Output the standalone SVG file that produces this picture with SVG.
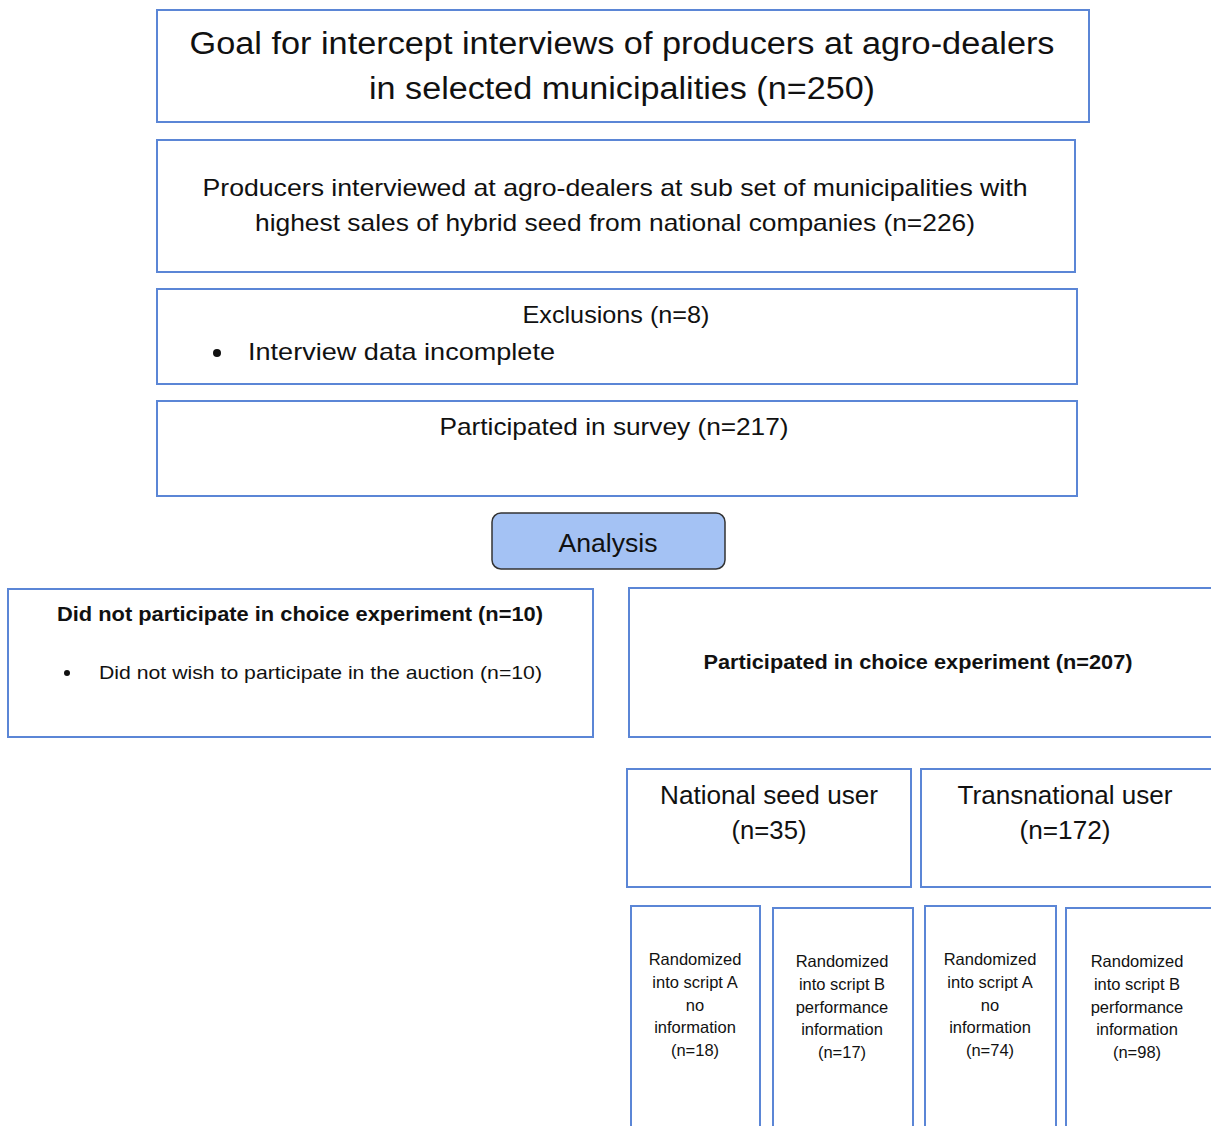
<svg xmlns="http://www.w3.org/2000/svg" width="1211" height="1126" viewBox="0 0 1211 1126">
<style>
.box{fill:#fff;stroke:#5b86d6;stroke-width:2}
text{font-family:"Liberation Sans",Arial,sans-serif;fill:#111;text-anchor:middle}
.t1{font-size:31px}
.t2{font-size:24px}
.t3{font-size:20px}
.b{font-weight:bold}
.sm{font-size:16.5px}
.ls{text-anchor:start}
</style>
<rect width="1211" height="1126" fill="#fff"/>
<g id="goal"><rect class="box" x="157" y="10" width="932" height="112"/>
<text class="t1" x="622" y="54" textLength="865" lengthAdjust="spacingAndGlyphs">Goal for intercept interviews of producers at agro-dealers</text>
<text class="t1" x="622" y="99" textLength="506" lengthAdjust="spacingAndGlyphs">in selected municipalities (n=250)</text></g>
<g id="interviewed"><rect class="box" x="157" y="140" width="918" height="132"/>
<text class="t2" x="615" y="196" textLength="825" lengthAdjust="spacingAndGlyphs">Producers interviewed at agro-dealers at sub set of municipalities with</text>
<text class="t2" x="615" y="231" textLength="720" lengthAdjust="spacingAndGlyphs">highest sales of hybrid seed from national companies (n=226)</text></g>
<g id="exclusions"><rect class="box" x="157" y="289" width="920" height="95"/>
<text class="t2" x="616" y="323" textLength="187" lengthAdjust="spacingAndGlyphs">Exclusions (n=8)</text>
<circle cx="217" cy="353" r="4" fill="#111"/>
<text class="t2 ls" x="248" y="360" textLength="307" lengthAdjust="spacingAndGlyphs">Interview data incomplete</text></g>
<g id="survey"><rect class="box" x="157" y="401" width="920" height="95"/>
<text class="t2" x="614" y="435" textLength="349" lengthAdjust="spacingAndGlyphs">Participated in survey (n=217)</text></g>
<g id="analysis"><rect x="492" y="513" width="233" height="56" rx="9" fill="#a4c2f4" stroke="#333" stroke-width="1.5"/>
<text x="608" y="552" font-size="26" textLength="99" lengthAdjust="spacingAndGlyphs">Analysis</text></g>
<g id="notparticipated"><rect class="box" x="8" y="589" width="585" height="148"/>
<text class="t3 b" x="300" y="621" textLength="486" lengthAdjust="spacingAndGlyphs">Did not participate in choice experiment (n=10)</text>
<circle cx="67" cy="673" r="3" fill="#111"/>
<text class="ls" x="99" y="679" font-size="19" textLength="443" lengthAdjust="spacingAndGlyphs">Did not wish to participate in the auction (n=10)</text></g>
<g id="participated"><rect class="box" x="629" y="588" width="583" height="149"/>
<text class="t3 b" x="918" y="669" textLength="429" lengthAdjust="spacingAndGlyphs">Participated in choice experiment (n=207)</text></g>
<g id="national"><rect class="box" x="627" y="769" width="284" height="118"/>
<text x="769" y="804" font-size="26" textLength="218" lengthAdjust="spacingAndGlyphs">National seed user</text>
<text x="769" y="839" font-size="26" textLength="75" lengthAdjust="spacingAndGlyphs">(n=35)</text></g>
<g id="transnational"><rect class="box" x="921" y="769" width="291" height="118"/>
<text x="1065" y="804" font-size="26" textLength="215" lengthAdjust="spacingAndGlyphs">Transnational user</text>
<text x="1065" y="839" font-size="26" textLength="91" lengthAdjust="spacingAndGlyphs">(n=172)</text></g>
<g id="natA"><rect class="box" x="631" y="906" width="129" height="222"/>
<text class="sm" x="695" y="965">Randomized</text><text class="sm" x="695" y="988">into script A</text><text class="sm" x="695" y="1011">no</text><text class="sm" x="695" y="1033">information</text><text class="sm" x="695" y="1056">(n=18)</text></g>
<g id="natB"><rect class="box" x="773" y="908" width="140" height="220"/>
<text class="sm" x="842" y="967">Randomized</text><text class="sm" x="842" y="990">into script B</text><text class="sm" x="842" y="1013">performance</text><text class="sm" x="842" y="1035">information</text><text class="sm" x="842" y="1058">(n=17)</text></g>
<g id="transA"><rect class="box" x="925" y="906" width="131" height="222"/>
<text class="sm" x="990" y="965">Randomized</text><text class="sm" x="990" y="988">into script A</text><text class="sm" x="990" y="1011">no</text><text class="sm" x="990" y="1033">information</text><text class="sm" x="990" y="1056">(n=74)</text></g>
<g id="transB"><rect class="box" x="1066" y="908" width="146" height="220"/>
<text class="sm" x="1137" y="967">Randomized</text><text class="sm" x="1137" y="990">into script B</text><text class="sm" x="1137" y="1013">performance</text><text class="sm" x="1137" y="1035">information</text><text class="sm" x="1137" y="1058">(n=98)</text></g>
<g id="connectors"></g>
</svg>
